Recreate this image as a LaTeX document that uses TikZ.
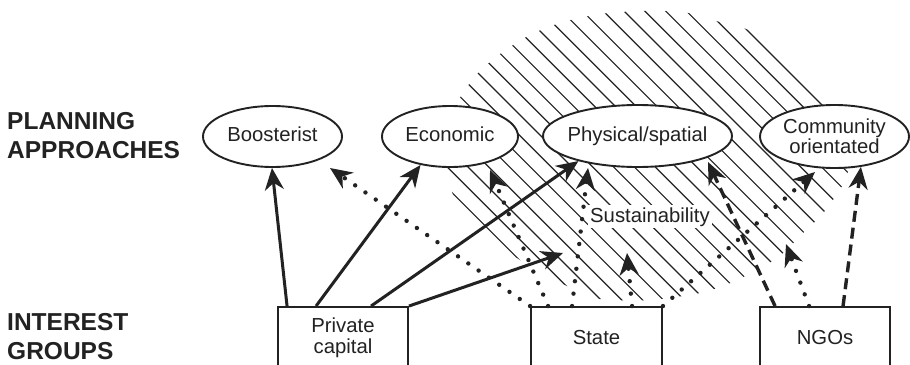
\documentclass[tikz,border=0pt]{standalone}
\usepackage{fontspec}
\setmainfont{Liberation Sans}
\usetikzlibrary{arrows.meta,shapes.geometric}
\definecolor{ink}{HTML}{222222}
\begin{document}
\begin{tikzpicture}[x=1pt,y=-1pt,
  every node/.style={text=ink},
  approach/.style={ellipse,draw=ink,line width=1.9pt,fill=white,
    inner xsep=-20pt,inner ysep=0pt,font=\fontsize{20.3}{18.5}\selectfont},
  oneline/.style={text height=15pt,text depth=4.3pt},
  group/.style={rectangle,draw=ink,line width=1.9pt,fill=white,
    minimum width=130pt,minimum height=61pt,inner sep=0pt,
    font=\fontsize{20.3}{21}\selectfont,align=center},
  sidelabel/.style={anchor=north west,inner sep=0pt,align=left,
    font=\fontsize{24.5}{29}\selectfont\bfseries},
  tip/.style={-{Stealth[length=22pt,width=19pt,inset=7pt]}},
  influence/.style={tip,draw=ink,line width=3pt},
  indirect/.style={tip,draw=ink,line width=4.4pt,line cap=round,
    dash pattern=on 0pt off 12.5pt},
  voluntary/.style={tip,draw=ink,line width=3.4pt,dash pattern=on 11pt off 6pt},
  hatchline/.style={draw=ink,line width=1.15pt}
]
\useasboundingbox (0,0) rectangle (910,364);
\fill[white] (0,0) rectangle (910,364);

% hatched sustainability zone
\begin{scope}
  \clip plot[smooth cycle,tension=0.45] coordinates {
    (447,172) (450,125) (461,96) (480,71) (504,51) (532,34) (563,22)
    (600,14) (638,11) (662,11) (688,13) (716,21) (752,32) (789,69)
    (826,106) (852,134) (846,178) (824,212) (805,231) (777,258)
    (735,281) (700,293) (650,300) (600,299) (567,286) (530,266)
    (490,240) (460,210)};
  \foreach \k in {0,...,23} {
    \pgfmathsetmacro\c{717-20.8*\k}
    \draw[hatchline] (\c,0) -- ++(400,400);
  }
\end{scope}

% planning approaches
\node[approach,oneline,minimum width=139pt,minimum height=61pt] (boost) at (272.5,136.5) {Boosterist};
\node[approach,oneline,minimum width=136pt,minimum height=61pt] (econ) at (450,136.5) {Economic};
\node[approach,oneline,minimum width=189pt,minimum height=62pt] (phys) at (637.5,136) {Physical/spatial};
\node[approach,align=center,minimum width=149pt,minimum height=63pt] (comm) at (834.5,136.5) {Community\\orientated};

% interest groups
\node[group] (pc) at (343,337.5) {Private\\capital};
\node[group,minimum width=131pt] (st) at (596.5,337.5) {State};
\node[group] (ngo) at (825,337.5) {NGOs};

\node[fill=white,inner sep=2pt,font=\fontsize{20.3}{21}\selectfont,anchor=base] (sus) at (650,222) {Sustainability};

% row labels
\node[sidelabel] (plan) at (7,112) {PLANNING\\APPROACHES};
\node[sidelabel] (groups) at (7,313) {INTEREST\\GROUPS};

% free arrow ends
\coordinate (t4) at (563,253);
\coordinate (t5) at (330,168);
\coordinate (t6) at (490,170);
\coordinate (t7) at (588,168);
\coordinate (t8) at (627,253);
\coordinate (t9) at (815,172);
\coordinate (t10) at (708,162);
\coordinate (t12) at (786,244);

% private capital
\draw[influence] ([xshift=10pt]pc.north west) -- (boost.269);
\draw[influence] ([xshift=39pt]pc.north west) -- (econ.224);
\draw[influence] ([xshift=94pt]pc.north west) -- (phys.203);
\draw[influence] (pc.north east) -- (t4);

% state
\draw[indirect] (st.north west) -- (t5);
\draw[indirect] ([xshift=18pt]st.north west) -- (t6);
\draw[indirect] ([xshift=42pt]st.north west) -- (t7);
\draw[indirect] ([xshift=102pt]st.north west) -- (t8);
\draw[indirect] (st.north east) -- (t9);

% NGOs
\draw[voluntary] ([xshift=16pt]ngo.north west) -- (t10);
\draw[voluntary] ([xshift=84pt]ngo.north west) -- (comm.311);
\draw[indirect] ([xshift=50pt]ngo.north west) -- (t12);
\end{tikzpicture}
\end{document}
